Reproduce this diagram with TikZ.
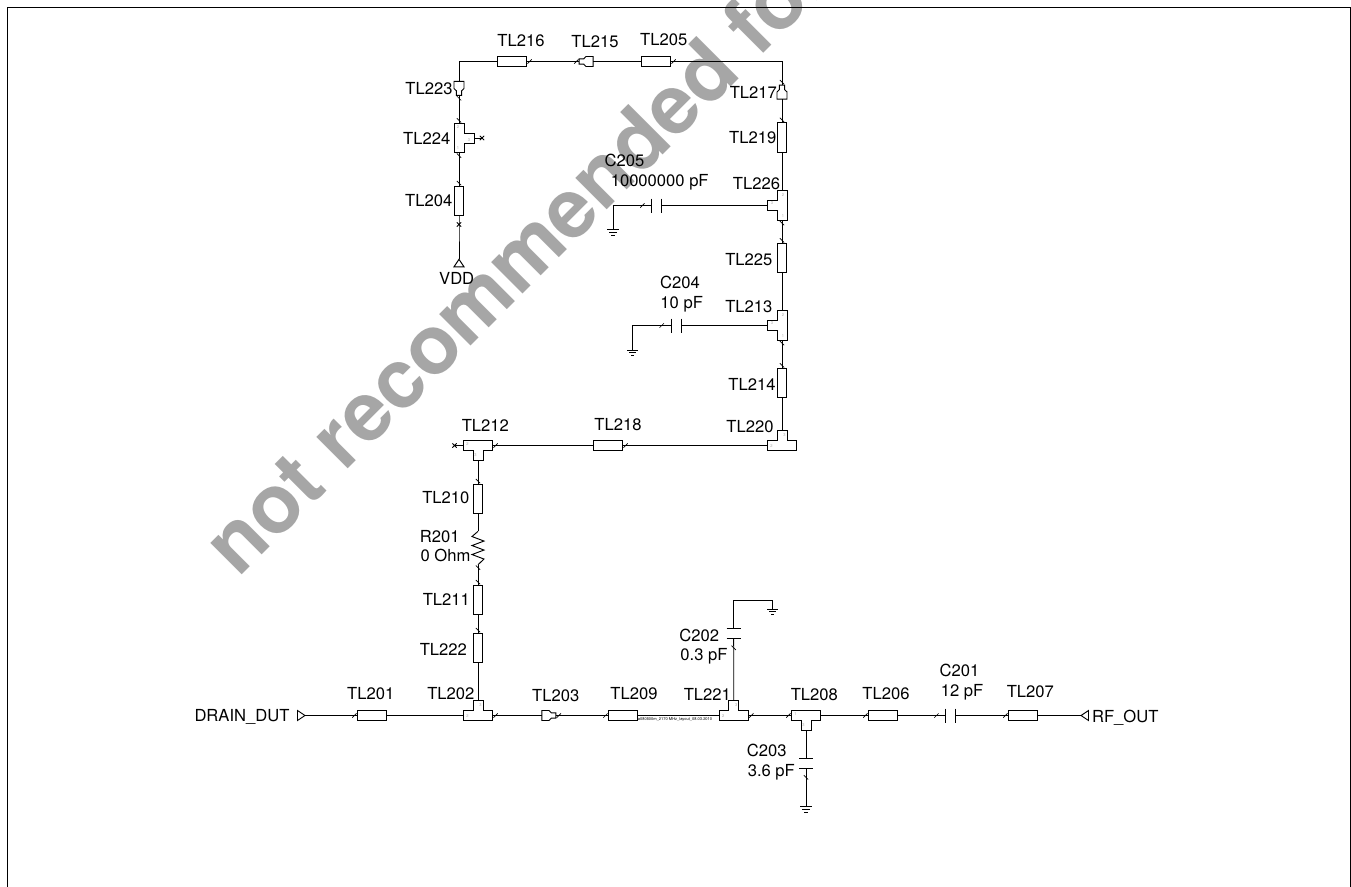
\documentclass[tikz,border=0pt]{standalone}
\usepackage{fontspec}
\setmainfont{TeX Gyre Heros}
\usepackage{tikz}
\usetikzlibrary{calc, shapes.misc, decorations.markings}

\tikzset{
  wire/.style={line width=.7pt},
  tickstart/.style={postaction={decorate,decoration={markings,mark=at position #1 with {\draw[line width=.5pt] (-1.6pt,-1.6pt)--(1.6pt,1.6pt);}}}},
  tickstart/.default=2.2pt,
  tickend/.style={postaction={decorate,decoration={markings,mark=at position -#1 with {\draw[line width=.5pt] (-1.6pt,-1.6pt)--(1.6pt,1.6pt);}}}},
  tickend/.default=2.2pt,
  tlh/.style={draw,line width=.7pt,inner sep=0,outer sep=0,minimum width=22pt,minimum height=7.3pt},
  tlv/.style={draw,line width=.7pt,inner sep=0,outer sep=0,minimum width=7.3pt,minimum height=22pt},
  lbl/.style={inner sep=0,text height=8.9pt,text depth=0pt,font=\fontsize{12.45}{14}\selectfont},
  portnum/.style={inner sep=0,text=gray!70,font=\fontsize{3}{3}\selectfont},
  xmark/.style={cross out,draw,line width=.6pt,inner sep=0,minimum size=2.6pt},
  tee/.style n args={3}{inner sep=0,outer sep=0,minimum width=22pt,minimum height=7.4pt,rotate=#1,
    append after command={\pgfextra{\edef\curname{\tikzlastnode}
      \begin{scope}[shift={(\curname.center)},rotate=#1]
        \draw[wire] (-14.7,5)--(14.7,5)--(14.7,-5)--(5,-5)--(5,-15)--(-5,-15)--(-5,-5)--(-14.7,-5)--cycle;
        \coordinate (\curname-c) at (0,-15);
        \node[portnum] (\curname-p3) at (2.5,-10) {3};
        \node[portnum] (\curname-pa) at (-10.5,1) {#2};
        \node[portnum] (\curname-pb) at (10.5,1) {#3};
      \end{scope}}}},
  taper/.style={inner sep=0,outer sep=0,minimum width=7pt,minimum height=7.3pt,rotate=#1,
    append after command={\pgfextra{\edef\curname{\tikzlastnode}
      \begin{scope}[shift={(\curname.center)},rotate=#1]
        \draw[wire] (-4.7,-5)--(2.5,-5)--(4.7,-2.7)--(9.3,-2.7)--(9.3,2.7)--(4.7,2.7)--(2.5,5)--(-4.7,5)--cycle;
        \coordinate (\curname-c) at (9.3,0);
      \end{scope}}}},
  capac/.style={inner sep=0,outer sep=0,minimum width=7.4pt,minimum height=10pt,rotate=#1,
    append after command={\pgfextra{\edef\curname{\tikzlastnode}
      \begin{scope}[shift={(\curname.center)},rotate=#1]
        \draw[wire] (-5,-7)--(-5,7) (5,-7)--(5,7);
      \end{scope}}}},
  resist/.style={inner sep=0,outer sep=0,minimum width=9pt,minimum height=25pt,
    append after command={\pgfextra{\edef\curname{\tikzlastnode}
      \begin{scope}[shift={(\curname.center)}]
        \draw[wire] (0,-16.7)--(-6,-11.5)--(6,-7)--(-6,-2.5)--(6,2)--(-6,6.5)--(6,11)--(0,16.7);
      \end{scope}}}},
  gnd/.style={inner sep=0,outer sep=0,minimum width=8pt,minimum height=4.4pt,
    append after command={\pgfextra{\edef\curname{\tikzlastnode}
      \begin{scope}[shift={(\curname.center)}]
        \draw[wire] (-5.6,-3)--(5.6,-3) (-3.6,-.3)--(3.6,-.3) (-1.6,2.5)--(1.6,2.5);
      \end{scope}}}},
  portmark/.style={inner sep=0,outer sep=0,minimum size=0pt,
    append after command={\pgfextra{\edef\curname{\tikzlastnode}
      \begin{scope}[shift={(\curname.center)},rotate=#1]
        \draw[wire] (0,0)--(-7.5,-5)--(-7.5,5)--cycle;
      \end{scope}}}},
}

\begin{document}
\begin{tikzpicture}[x=.75pt,y=-.75pt]
   \useasboundingbox (0,0) rectangle (1351,886);
   \node[rotate=45,anchor=base west,inner sep=0,text=gray!70,font=\fontsize{61.7}{62}\selectfont\bfseries] (watermark) at (238.5,578.8) {not recommended for};
   \node[draw,line width=.8pt,anchor=north west,minimum width=1007.3pt,minimum height=700pt] (frame) at (6.5,6.5) {};

   % bottom row
   \node[tee={0}{2}{}] (TL202) at (478,715.5) {};
   \node[tlh] (TL201) [node distance=79.5pt,left of=TL202] {};
   \node[taper=0] (TL203) [node distance=51.4pt,right of=TL202] {};
   \node[tlh] (TL209) [node distance=57.4pt,right of=TL203] {};
   \node[tee={0}{2}{}] (TL221) [node distance=83pt,right of=TL209] {};
   \node[tee={180}{}{1}] (TL208) at (806,715.5) {};
   \node[tlh] (TL206) [node distance=57.75pt,right of=TL208] {};
   \node[capac=0] (C201) [node distance=50.8pt,right of=TL206] {};
   \node[tlh] (TL207) [node distance=54.2pt,right of=C201] {};
   \node[portmark=0] (DRAIN) at (305,715.5) {};
   \node[portmark=180] (RF) at (1081,715.5) {};
   \node[capac=90] (C202) at (733.7,633.5) {};
   \node[capac=90] (C203) at (806,763.7) {};
   \node[gnd] (gnd202) at (772.7,612) {};
   \node[gnd] (gnd203) at (806,809.5) {};
   \coordinate (C202top) at (733.7,600.5);
   \coordinate (C202right) at (772.7,600.5);

   % left column up to TL212, across to TL220
   \node[tlv] (TL222) [node distance=50.8pt,above of=TL202] {};
   \node[tlv] (TL211) [node distance=36pt,above of=TL222] {};
   \node[resist] (R201) [node distance=38.8pt,above of=TL211] {};
   \node[tlv] (TL210) [node distance=37pt,above of=R201] {};
   \node[tee={180}{}{2}] (TL212) at (478,445.5) {};
   \node[xmark] (TL212x) at (454.5,445.5) {};
   \node[tlh] (TL218) [node distance=97.5pt,right of=TL212] {};
   \node[tee={0}{2}{}] (TL220) [node distance=130.5pt,right of=TL218] {};

   % right column
   \node[tlv] (TL214) [node distance=46.9pt,above of=TL220] {};
   \node[tee={90}{1}{2}] (TL213) at (782,325.5) {};
   \node[tlv] (TL225) [node distance=50.6pt,above of=TL213] {};
   \node[tee={90}{1}{2}] (TL226) at (782,205.5) {};
   \node[tlv] (TL219) [node distance=51pt,above of=TL226] {};
   \node[taper=90] (TL217) at (782,94.4) {};
   \node[capac=0] (C204) [node distance=79.5pt,left of=TL213] {};
   \node[capac=0] (C205) [node distance=94pt,left of=TL226] {};
   \node[gnd] (gnd204) at (632.7,353) {};
   \node[gnd] (gnd205) at (613,232.5) {};
   \coordinate (C204left) at (632.7,325.5);
   \coordinate (C205left) at (613,205.5);

   % top row and VDD column
   \coordinate (topright) at (782,61.5);
   \coordinate (topleft) at (459,61.5);
   \node[tlh] (TL205) at (656,61.5) {};
   \node[taper=180] (TL215) at (588.5,61.5) {};
   \node[tlh] (TL216) [node distance=57.4pt,left of=TL215] {};
   \node[taper=270] (TL223) at (459,86) {};
   \node[tee={270}{2}{1}] (TL224) at (459,138) {};
   \node[xmark] (TL224x) at (482,138) {};
   \node[tlv] (TL204) [node distance=47pt,below of=TL224] {};
   \node[xmark] (TL204x) at (459,224.5) {};
   \node[portmark=90] (VDD) at (459,259.3) {};

   \draw[wire] (TL223.west) -- (topleft) -- (TL216.west);
   \draw[wire,tickstart,tickend] (TL216.east) -- (TL215-c);
   \draw[wire] (TL215.west) -- (TL205.west);
   \draw[wire,tickstart,tickend] (TL205.east) -- (topright) -- (TL217-c);
   \draw[wire,tickend] (TL217.west) -- (TL219.north);
   \draw[wire] (TL219.south) -- (TL226.east);
   \draw[wire,tickstart,tickend] (TL226.west) -- (TL225.north);
   \draw[wire] (TL225.south) -- (TL213.east);
   \draw[wire,tickstart,tickend] (TL213.west) -- (TL214.north);
   \draw[wire] (TL214.south) -- (TL220-c);
   \draw[wire,tickend] (TL220.west) -- (TL218.east);
   \draw[wire,tickend] (TL218.west) -- (TL212.west);
   \draw[wire] (TL212.east) -- (TL212x.center);
   \draw[wire,tickend] (TL212-c) -- (TL210.north);
   \draw[wire] (TL210.south) -- (R201.north);
   \draw[wire,tickstart,tickend] (R201.south) -- (TL211.north);
   \draw[wire,tickend] (TL211.south) -- (TL222.north);
   \draw[wire] (TL222.south) -- (TL202-c);
   \draw[wire,tickend] (DRAIN) -- (TL201.west);
   \draw[wire] (TL201.east) -- (TL202.west);
   \draw[wire,tickstart] (TL202.east) -- (TL203.west);
   \draw[wire,tickstart,tickend] (TL203-c) -- (TL209.west);
   \draw[wire] (TL209.east) -- (TL221.west);
   \draw[wire,tickstart,tickend] (TL221.east) -- (TL208.east);
   \draw[wire,tickend] (TL208.west) -- (TL206.west);
   \draw[wire,tickend=7pt] (TL206.east) -- (C201.west);
   \draw[wire,tickend] (C201.east) -- (TL207.west);
   \draw[wire] (TL207.east) -- (RF);
   \draw[wire,tickend=7pt] (TL221-c) -- (C202.west);
   \draw[wire] (C202.east) -- (C202top) -- (C202right) -- (gnd202.north);
   \draw[wire] (TL208-c) -- (C203.east);
   \draw[wire,tickstart=6.5pt] (C203.west) -- (gnd203.north);
   \draw[wire] (TL226-c) -- (C205.east);
   \draw[wire,tickstart=7pt] (C205.west) -- (C205left) -- (gnd205.north);
   \draw[wire] (TL213-c) -- (C204.east);
   \draw[wire,tickstart=7pt] (C204.west) -- (C204left) -- (gnd204.north);
   \draw[wire,tickstart,tickend] (TL223-c) -- (TL224.west);
   \draw[wire,tickstart,tickend] (TL224.east) -- (TL204.north);
   \draw[wire] (TL224-c) -- (TL224x.center);
   \draw[wire] (TL204.south) -- (TL204x.center) -- (VDD);

   % labels
   \node[lbl] (tTL216) at (521,41) {TL216};
   \node[lbl] (tTL215) at (595,42) {TL215};
   \node[lbl] (tTL205) at (663.7,40) {TL205};
   \node[lbl] (tTL223) at (429,89) {TL223};
   \node[lbl] (tTL217) at (753.3,93) {TL217};
   \node[lbl] (tTL224) at (426.7,139) {TL224};
   \node[lbl] (tTL219) at (752.7,137.7) {TL219};
   \node[lbl] (tTL204) at (428.7,201) {TL204};
   \node[lbl] (tC205) at (624.5,160.7) {C205};
   \node[lbl] (vC205) at (659.7,181) {10000000 pF};
   \node[lbl] (tTL226) at (756.5,184) {TL226};
   \node[lbl] (tTL225) at (748.8,260) {TL225};
   \node[lbl] (tC204) at (680,283) {C204};
   \node[lbl] (vC204) at (681.7,303) {10 pF};
   \node[lbl] (tTL213) at (748.8,307) {TL213};
   \node[lbl] (tTL214) at (752,385) {TL214};
   \node[lbl] (tTL220) at (750,427) {TL220};
   \node[lbl] (tTL218) at (618,425) {TL218};
   \node[lbl] (tVDD) at (456.7,279) {VDD};
   \node[lbl] (tTL212) at (485.3,426) {TL212};
   \node[lbl] (tTL210) at (445.8,498) {TL210};
   \node[lbl] (tR201) at (439.8,536.7) {R201};
   \node[lbl] (vR201) at (445.5,555.3) {0 Ohm};
   \node[lbl] (tTL211) at (446.3,599.3) {TL211};
   \node[lbl] (tTL222) at (443.3,649.3) {TL222};
   \node[lbl] (tTL202) at (450.8,693.3) {TL202};
   \node[lbl] (tTL201) at (370.7,693.3) {TL201};
   \node[lbl] (tTL203) at (555.7,695.7) {TL203};
   \node[lbl] (tTL209) at (634,693.3) {TL209};
   \node[lbl] (tDRAIN) at (242,716) {DRAIN\_DUT};
   \node[lbl] (tTL221) at (707.3,695) {TL221};
   \node[lbl] (tTL208) at (814.3,695) {TL208};
   \node[lbl] (tTL206) at (886,693.3) {TL206};
   \node[lbl] (tC201) at (959.5,671) {C201};
   \node[lbl] (vC201) at (962,691) {12 pF};
   \node[lbl] (tTL207) at (1030.3,691.7) {TL207};
   \node[lbl] (tRF) at (1125.3,716.5) {RF\_OUT};
   \node[lbl] (tC202) at (699.3,635.7) {C202};
   \node[lbl] (vC202) at (704,654.3) {0.3 pF};
   \node[lbl] (tC203) at (766.7,750.7) {C203};
   \node[lbl] (vC203) at (771.3,771) {3.6 pF};
   \node[inner sep=0,font=\fontsize{3}{3}\selectfont] (layoutname) at (675,719.5) {a080500m\_2170 MHz\_layout\_08.03.2010};
\end{tikzpicture}
\end{document}
